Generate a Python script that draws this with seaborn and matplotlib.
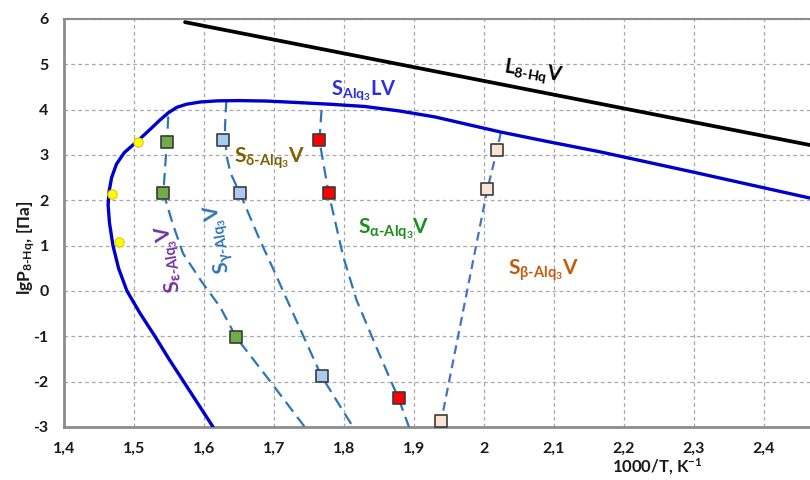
import numpy as np
import pandas as pd
import matplotlib
matplotlib.use("Agg")
import matplotlib.pyplot as plt
import seaborn as sns
from matplotlib.ticker import FuncFormatter, FixedLocator

# ---------------- data ----------------
liq_x = [1.573, 2.466]
liq_y = [5.93, 3.22]

sv_x = [1.613, 1.592, 1.571, 1.550, 1.530, 1.509, 1.490, 1.478, 1.470, 1.465, 1.463,
        1.4645, 1.468, 1.475, 1.486, 1.497, 1.508, 1.522, 1.537, 1.549, 1.561, 1.575,
        1.595, 1.620, 1.650, 1.690, 1.730, 1.780, 1.830, 1.880, 1.930, 1.975, 2.023,
        2.090, 2.166, 2.300, 2.466]
sv_y = [-3.0, -2.5, -2.0, -1.5, -1.0, -0.5, 0.0, 0.5, 1.0, 1.5, 1.9,
        2.2, 2.5, 2.8, 3.05, 3.2, 3.35, 3.55, 3.77, 3.93, 4.05, 4.12,
        4.17, 4.195, 4.2, 4.19, 4.16, 4.12, 4.07, 3.97, 3.84, 3.68, 3.51,
        3.3, 3.07, 2.62, 2.05]

yellow_x = [1.506, 1.468, 1.479]
yellow_y = [3.28, 2.14, 1.09]

eps_x = [1.547, 1.542, 1.646]
eps_y = [3.28, 2.17, -1.02]
gam_x = [1.627, 1.651, 1.768]
gam_y = [3.32, 2.17, -1.88]
alp_x = [1.765, 1.778, 1.878]
alp_y = [3.32, 2.17, -2.37]
bet_x = [2.019, 2.005, 1.939]
bet_y = [3.12, 2.25, -2.87]

eps_line_x = [1.549, 1.547, 1.542, 1.555, 1.570, 1.597, 1.623, 1.646, 1.695, 1.744]
eps_line_y = [3.85, 3.28, 2.17, 1.5, 0.83, 0.2, -0.35, -1.02, -2.0, -3.0]
gam_line_x = [1.632, 1.630, 1.632, 1.638, 1.651, 1.680, 1.700, 1.720, 1.751, 1.768, 1.813]
gam_line_y = [4.21, 3.6, 3.0, 2.6, 2.17, 1.12, 0.45, -0.24, -1.30, -1.88, -3.0]
alp_line_x = [1.768, 1.765, 1.778, 1.799, 1.818, 1.848, 1.878, 1.893]
alp_line_y = [3.99, 3.32, 2.17, 0.76, -0.2, -1.3, -2.37, -3.0]
bet_line_x = [2.024, 2.019, 2.005, 1.939]
bet_line_y = [3.48, 3.12, 2.25, -2.87]

x_ticks = [1.4, 1.5, 1.6, 1.7, 1.8, 1.9, 2.0, 2.1, 2.2, 2.3, 2.4]
y_ticks = [-3, -2, -1, 0, 1, 2, 3, 4, 5, 6]

# ---------------- style ----------------
sns.set_theme(style="white")
plt.rcParams["font.family"] = ["Lato", "Open Sans", "DejaVu Sans"]
plt.rcParams["font.weight"] = "bold"
plt.rcParams["mathtext.fontset"] = "custom"
plt.rcParams["mathtext.rm"] = "Lato:bold"
plt.rcParams["mathtext.bf"] = "Lato:bold"
plt.rcParams["mathtext.it"] = "Lato:bold"
plt.rcParams["mathtext.sf"] = "Lato:bold"
plt.rcParams["mathtext.default"] = "bf"

fig = plt.figure(figsize=(8.1, 4.8), dpi=100)
ax = fig.add_axes([64 / 810, 1 - 427 / 480, 746 / 810, 408 / 480])

ax.set_xlim(1.4, 2.466)
ax.set_ylim(-3, 6)

dash_col = "#2E75B6"
for lx, ly, col, dsh in [(eps_line_x, eps_line_y, dash_col, (5.5, 3)),
                         (gam_line_x, gam_line_y, dash_col, (5.5, 3)),
                         (alp_line_x, alp_line_y, dash_col, (5.5, 3)),
                         (bet_line_x, bet_line_y, "#4472C4", (4, 2.5))]:
    sns.lineplot(x=lx, y=ly, sort=False, estimator=None, ax=ax, color=col,
                 linewidth=1.6, linestyle=(0, dsh), zorder=3)

sns.lineplot(x=sv_x, y=sv_y, sort=False, estimator=None, ax=ax, color="#0000CC",
             linewidth=2.4, zorder=4)
sns.lineplot(x=liq_x, y=liq_y, sort=False, estimator=None, ax=ax, color="black",
             linewidth=2.7, zorder=4)

sns.scatterplot(x=yellow_x, y=yellow_y, ax=ax, color="#FFFF00", edgecolor="#D8CC00",
                linewidth=0.8, s=45, zorder=6)
for mx, my, col in [(eps_x, eps_y, "#70AD47"), (gam_x, gam_y, "#A9CBF2"),
                    (alp_x, alp_y, "#FF0000"), (bet_x, bet_y, "#FBE3D3")]:
    sns.scatterplot(x=mx, y=my, ax=ax, marker="s", color=col, edgecolor="#3A3A3A",
                    linewidth=1.2, s=85, zorder=6)

# ---------------- axes styling ----------------
ax.xaxis.set_major_locator(FixedLocator(x_ticks))
ax.yaxis.set_major_locator(FixedLocator(y_ticks))
fmt = FuncFormatter(lambda v, p: f"{v:g}".replace(".", ","))
ax.xaxis.set_major_formatter(fmt)
ax.yaxis.set_major_formatter(fmt)
ax.grid(True, color="#A8A8A8", linestyle=(0, (3, 2.5)), linewidth=0.9)
ax.set_axisbelow(True)
for s in ["left", "bottom", "top"]:
    ax.spines[s].set_color("#8C8C8C")
    ax.spines[s].set_linewidth(2)
ax.spines["top"].set_linewidth(1.5)
ax.spines["right"].set_visible(False)
ax.tick_params(axis="both", direction="out", length=5, width=1.5, color="#8C8C8C",
               labelsize=11.5, labelcolor="#1A1A1A", pad=6)
for lab in ax.get_xticklabels() + ax.get_yticklabels():
    lab.set_fontweight("bold")

ax.set_xlabel(r"1000/T, K$^{-1}$", fontsize=12, fontweight="bold", color="#1A1A1A")
ax.xaxis.set_label_coords(0.795, -0.072)
ax.set_ylabel(r"lgP$_{8\text{-}Hq}$, [Па]", fontsize=12.5, fontweight="bold", color="#1A1A1A")
ax.yaxis.set_label_coords(-0.036, 0.44)

# ---------------- annotations ----------------
ax.text(1.781, 4.32, r"$S_{Alq_3}LV$", color="#2F2FDB", fontsize=14.5,
        ha="left", va="baseline", zorder=7)
ax.text(2.028, 4.84, r"$L_{8\text{-}Hq}V$", color="black", fontsize=14.5,
        ha="left", va="baseline", rotation=-9, rotation_mode="anchor", zorder=7)
ax.text(1.643, 2.82, r"$S_{δ\text{-}Alq_3}V$", color="#7F6000", fontsize=15,
        ha="left", va="baseline", zorder=7)
ax.text(1.820, 1.27, r"$S_{α\text{-}Alq_3}V$", color="#1E8C1E", fontsize=15,
        ha="left", va="baseline", zorder=7)
ax.text(2.034, 0.35, r"$S_{β\text{-}Alq_3}V$", color="#C55A11", fontsize=15,
        ha="left", va="baseline", zorder=7)
ax.text(1.567, -0.02, r"$S_{ε\text{-}Alq_3}V$", color="#7030A0", fontsize=15,
        ha="left", va="baseline", rotation=100, rotation_mode="anchor", zorder=7)
ax.text(1.637, 0.42, r"$S_{γ\text{-}Alq_3}V$", color="#2E75B6", fontsize=15,
        ha="left", va="baseline", rotation=100, rotation_mode="anchor", zorder=7)

fig.savefig("out.png", dpi=100)
